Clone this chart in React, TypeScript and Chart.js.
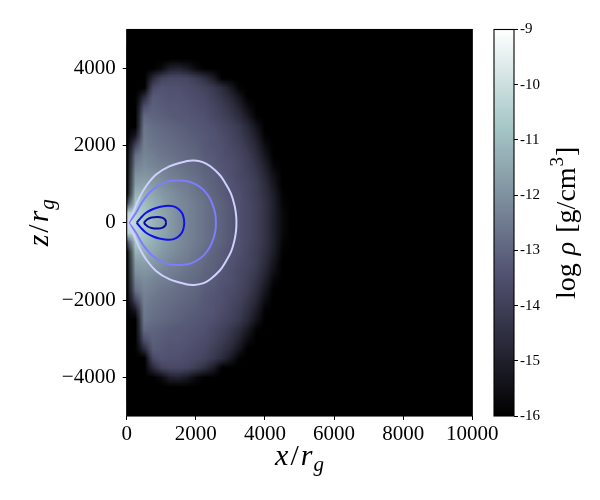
import React, { useEffect, useRef } from "react";
import { Chart, registerables } from "chart.js";

Chart.register(...registerables);

// ---------- axes ----------
const xTicks = [0, 2000, 4000, 6000, 8000, 10000];
const zTicks = [-4000, -2000, 0, 2000, 4000];
const cbTicks = [-16, -15, -14, -13, -12, -11, -10, -9];
const CB_MIN = -16;
const CB_MAX = -9;

// ---------- density grid (log rho), upper half z >= 0, mirrored below ----------
const gridX = [0, 250, 500, 750, 1000, 1250, 1500, 1750, 2000, 2250, 2500, 2750, 3000, 3250, 3500, 3750, 4000, 4250, 4500, 4750, 5000];
const gridZ = [0, 250, 500, 750, 1000, 1250, 1500, 1750, 2000, 2250, 2500, 2750, 3000, 3250, 3500, 3750, 4000, 4250, 4500];
const logRho: number[][] = [
  [-9.9, -10.3, -10.8, -11.2, -11.5, -11.8, -12.1, -12.3, -12.5, -12.7, -12.9, -13.1, -13.3, -13.5, -13.7, -14.0, -14.4, -15.0, -15.7, -16, -16],
  [-10.4, -10.4, -10.8, -11.2, -11.5, -11.8, -12.1, -12.3, -12.5, -12.7, -12.9, -13.1, -13.3, -13.5, -13.7, -14.0, -14.4, -15.0, -15.7, -16, -16],
  [-14.0, -10.7, -11.0, -11.3, -11.6, -11.9, -12.1, -12.3, -12.5, -12.7, -12.9, -13.1, -13.3, -13.5, -13.7, -14.0, -14.4, -15.0, -15.8, -16, -16],
  [-16, -11.2, -11.3, -11.5, -11.8, -12.0, -12.2, -12.4, -12.6, -12.8, -13.0, -13.2, -13.4, -13.5, -13.8, -14.1, -14.5, -15.1, -15.9, -16, -16],
  [-16, -11.7, -11.6, -11.8, -12.0, -12.2, -12.4, -12.5, -12.7, -12.9, -13.1, -13.2, -13.4, -13.6, -13.8, -14.1, -14.6, -15.3, -16, -16, -16],
  [-16, -12.0, -11.9, -12.0, -12.2, -12.4, -12.5, -12.7, -12.8, -13.0, -13.1, -13.3, -13.5, -13.7, -13.9, -14.2, -14.8, -15.5, -16, -16, -16],
  [-16, -12.4, -12.1, -12.3, -12.4, -12.5, -12.7, -12.8, -12.9, -13.1, -13.2, -13.4, -13.5, -13.7, -14.0, -14.4, -15.0, -15.8, -16, -16, -16],
  [-16, -12.8, -12.3, -12.4, -12.6, -12.7, -12.8, -12.9, -13.0, -13.2, -13.3, -13.5, -13.6, -13.8, -14.1, -14.6, -15.3, -16, -16, -16, -16],
  [-16, -13.8, -12.4, -12.6, -12.7, -12.8, -12.9, -13.0, -13.1, -13.3, -13.4, -13.5, -13.7, -13.9, -14.3, -14.8, -15.6, -16, -16, -16, -16],
  [-16, -15.2, -12.5, -12.7, -12.8, -12.9, -13.0, -13.1, -13.2, -13.3, -13.4, -13.6, -13.8, -14.1, -14.5, -15.1, -15.9, -16, -16, -16, -16],
  [-16, -16, -12.6, -12.8, -12.9, -13.0, -13.1, -13.2, -13.3, -13.4, -13.5, -13.7, -13.9, -14.2, -14.7, -15.4, -16, -16, -16, -16, -16],
  [-16, -16, -12.9, -13.0, -13.1, -13.2, -13.3, -13.3, -13.4, -13.5, -13.7, -13.9, -14.2, -14.6, -15.2, -15.9, -16, -16, -16, -16, -16],
  [-16, -16, -13.5, -13.1, -13.2, -13.3, -13.3, -13.4, -13.5, -13.6, -13.8, -14.1, -14.4, -14.9, -15.6, -16, -16, -16, -16, -16, -16],
  [-16, -16, -14.6, -13.2, -13.3, -13.4, -13.4, -13.5, -13.6, -13.7, -14.0, -14.3, -14.7, -15.3, -16, -16, -16, -16, -16, -16, -16],
  [-16, -16, -16, -13.7, -13.4, -13.5, -13.5, -13.6, -13.7, -13.9, -14.2, -14.6, -15.2, -15.9, -16, -16, -16, -16, -16, -16, -16],
  [-16, -16, -16, -14.7, -13.9, -13.7, -13.7, -13.8, -14.1, -14.5, -15.1, -16, -16, -16, -16, -16, -16, -16, -16, -16, -16],
  [-16, -16, -16, -16, -15.7, -15.0, -14.9, -15.2, -15.7, -16, -16, -16, -16, -16, -16, -16, -16, -16, -16, -16, -16],
  [-16, -16, -16, -16, -16, -16, -16, -16, -16, -16, -16, -16, -16, -16, -16, -16, -16, -16, -16, -16, -16],
  [-16, -16, -16, -16, -16, -16, -16, -16, -16, -16, -16, -16, -16, -16, -16, -16, -16, -16, -16, -16, -16],
];

// ---------- contours (upper half, [x, z], from left end to right end) ----------
const contourOuter = [[30, 0], [174, 258], [366, 645], [560, 944], [850, 1246], [1233, 1460], [1716, 1590], [1950, 1610], [2200, 1570], [2420, 1460], [2700, 1230], [2850, 1030], [3020, 750], [3120, 450], [3165, 200], [3175, 0]];
const contourMid = [[60, 0], [270, 258], [463, 558], [752, 859], [1137, 1057], [1450, 1095], [1750, 1075], [2000, 990], [2220, 850], [2400, 640], [2520, 380], [2570, 180], [2580, 0]];
const contourBlue = [[290, 0], [420, 140], [560, 258], [750, 350], [945, 410], [1172, 440], [1330, 430], [1480, 370], [1600, 250], [1650, 120], [1665, 0]];
const contourInner = [[510, 0], [600, 90], [720, 135], [900, 150], [1040, 125], [1120, 70], [1140, 0]];

// ---------- colormap (matplotlib "bone") ----------
const BONE_R = [[0, 0], [0.746032, 0.652778], [1, 1]];
const BONE_G = [[0, 0], [0.365079, 0.319444], [0.746032, 0.777778], [1, 1]];
const BONE_B = [[0, 0], [0.365079, 0.444444], [1, 1]];

function seg(pts: number[][], t: number) {
  for (let i = 1; i < pts.length; i++) {
    if (t <= pts[i][0]) {
      const [t0, v0] = pts[i - 1];
      const [t1, v1] = pts[i];
      return v0 + ((v1 - v0) * (t - t0)) / (t1 - t0);
    }
  }
  return pts[pts.length - 1][1];
}
function boneT(t: number): [number, number, number] {
  const u = Math.max(0, Math.min(1, t));
  return [seg(BONE_R, u), seg(BONE_G, u), seg(BONE_B, u)].map((c) => Math.round(c * 255)) as [number, number, number];
}
function bone(v: number) {
  return boneT((v - CB_MIN) / (CB_MAX - CB_MIN));
}
const rgb = (c: number[]) => `rgb(${c[0]},${c[1]},${c[2]})`;

function mirrorLoop(upper: number[][], smoothLeft = false) {
  const top = upper.map(([x, z]) => ({ x, y: z }));
  const bottom = upper.slice(0, -1).reverse().map(([x, z]) => ({ x, y: -z }));
  const loop = top.concat(bottom);
  if (!smoothLeft) return loop;
  const idx = upper.length - 1;
  return loop.slice(idx).concat(loop.slice(1, idx + 1));
}

const SERIF = "'Liberation Serif', 'Times New Roman', serif";
const fmtTick = (v: number) => (v < 0 ? "\u2212" + Math.abs(v) : String(v));

type Part = { text: string; font: string; dy?: number; gap?: number };
function drawParts(ctx: CanvasRenderingContext2D, parts: Part[], cx: number, baseline: number) {
  const widths = parts.map((p) => {
    ctx.font = p.font;
    return ctx.measureText(p.text).width;
  });
  const total = widths.reduce((s, w, i) => s + w + (parts[i].gap || 0), 0);
  let x = cx - total / 2;
  ctx.textAlign = "left";
  ctx.textBaseline = "alphabetic";
  parts.forEach((p, i) => {
    x += p.gap || 0;
    ctx.font = p.font;
    ctx.fillText(p.text, x, baseline + (p.dy || 0));
    x += widths[i];
  });
}

const axisTitleParts = (letter: string): Part[] => [
  { text: letter, font: `italic 30px ${SERIF}` },
  { text: "/", font: `30px ${SERIF}`, gap: 2 },
  { text: "r", font: `italic 30px ${SERIF}`, gap: 2 },
  { text: "g", font: `italic 21px ${SERIF}`, dy: 6, gap: 1 },
];

const heatmapPlugin = {
  id: "heatmap",
  beforeDatasetsDraw(chart: any) {
    const { ctx, chartArea: a, scales } = chart;
    const xs = scales.x;
    const ys = scales.y;
    const nx = gridX.length;
    const nh = gridZ.length;
    const rows: number[][] = [];
    for (let j = nh - 1; j >= 0; j--) rows.push(logRho[j]);
    for (let j = 1; j < nh; j++) rows.push(logRho[j]);
    const off = document.createElement("canvas");
    off.width = nx;
    off.height = rows.length;
    const octx = off.getContext("2d")!;
    const img = octx.createImageData(nx, rows.length);
    rows.forEach((row, j) =>
      row.forEach((v, i) => {
        const c = bone(v);
        const k = (j * nx + i) * 4;
        img.data[k] = c[0];
        img.data[k + 1] = c[1];
        img.data[k + 2] = c[2];
        img.data[k + 3] = 255;
      })
    );
    octx.putImageData(img, 0, 0);
    const hx = (gridX[1] - gridX[0]) / 2;
    const hz = (gridZ[1] - gridZ[0]) / 2;
    const left = xs.getPixelForValue(gridX[0] - hx);
    const right = xs.getPixelForValue(gridX[nx - 1] + hx);
    const top = ys.getPixelForValue(gridZ[nh - 1] + hz);
    const bottom = ys.getPixelForValue(-gridZ[nh - 1] - hz);
    ctx.save();
    ctx.beginPath();
    ctx.rect(a.left, a.top, a.right - a.left, a.bottom - a.top);
    ctx.clip();
    ctx.fillStyle = rgb(bone(CB_MIN));
    ctx.fillRect(a.left, a.top, a.right - a.left, a.bottom - a.top);
    ctx.imageSmoothingEnabled = true;
    ctx.imageSmoothingQuality = "low";
    ctx.drawImage(off, left, top, right - left, bottom - top);
    ctx.restore();
  },
};

const mainDecorPlugin = {
  id: "mainDecor",
  afterDraw(chart: any) {
    const { ctx, chartArea: a } = chart;
    ctx.save();
    ctx.strokeStyle = "#000";
    ctx.lineWidth = 1.1;
    ctx.strokeRect(a.left, a.top, a.right - a.left, a.bottom - a.top);
    ctx.fillStyle = "#000";
    drawParts(ctx, axisTitleParts("x"), (a.left + a.right) / 2, a.bottom + 49);
    ctx.translate(a.left - 79, (a.top + a.bottom) / 2);
    ctx.rotate(-Math.PI / 2);
    drawParts(ctx, axisTitleParts("z"), 0, 0);
    ctx.restore();
  },
};

const cbDecorPlugin = {
  id: "cbDecor",
  afterDraw(chart: any) {
    const { ctx, chartArea: a } = chart;
    ctx.save();
    ctx.strokeStyle = "#000";
    ctx.lineWidth = 1.1;
    ctx.strokeRect(a.left, a.top, a.right - a.left, a.bottom - a.top);
    ctx.fillStyle = "#000";
    ctx.translate(a.right + 61, (a.top + a.bottom) / 2);
    ctx.rotate(-Math.PI / 2);
    drawParts(
      ctx,
      [
        { text: "log", font: `28px ${SERIF}` },
        { text: "\u03c1", font: `italic 28px ${SERIF}`, gap: 8 },
        { text: "[g/cm", font: `28px ${SERIF}`, gap: 9 },
        { text: "3", font: `19px ${SERIF}`, dy: -12, gap: 1 },
        { text: "]", font: `28px ${SERIF}`, gap: 1 },
      ],
      0,
      0
    );
    ctx.restore();
  },
};

export default function App() {
  const mainRef = useRef<HTMLCanvasElement>(null);
  const cbRef = useRef<HTMLCanvasElement>(null);

  useEffect(() => {
    const tickFont = { family: SERIF, size: 21 };
    const contours = [
      { pts: mirrorLoop(contourOuter), color: "rgb(208,208,255)" },
      { pts: mirrorLoop(contourMid), color: "rgb(125,125,255)" },
      { pts: mirrorLoop(contourBlue), color: "rgb(16,16,235)" },
      { pts: mirrorLoop(contourInner, true), color: "rgb(10,10,165)" },
    ];
    const main = new Chart(mainRef.current!, {
      type: "scatter",
      data: {
        datasets: contours.map((c) => ({
          data: c.pts,
          showLine: true,
          borderColor: c.color,
          borderWidth: 2,
          pointRadius: 0,
          tension: 0.35,
          fill: false,
        })),
      },
      options: {
        animation: false,
        responsive: false,
        events: [],
        layout: { padding: { left: 0, top: 29.5, right: 127.7, bottom: 0 } },
        plugins: { legend: { display: false }, tooltip: { enabled: false } },
        scales: {
          x: {
            type: "linear",
            min: 0,
            max: 10000,
            afterBuildTicks: (s: any) => {
              s.ticks = xTicks.map((v) => ({ value: v }));
            },
            afterFit: (s: any) => {
              s.height = 84;
            },
            ticks: { font: tickFont, color: "#000", padding: 2, maxRotation: 0, autoSkip: false, callback: (v: any) => fmtTick(Number(v)) },
            grid: { display: true, drawOnChartArea: false, drawTicks: true, tickLength: 4, color: "#000", lineWidth: 1 },
            border: { display: false },
          },
          y: {
            type: "linear",
            min: -5000,
            max: 5000,
            afterBuildTicks: (s: any) => {
              s.ticks = zTicks.map((v) => ({ value: v }));
            },
            afterFit: (s: any) => {
              s.width = 126.7;
            },
            ticks: { font: tickFont, color: "#000", padding: 7, autoSkip: false, callback: (v: any) => fmtTick(Number(v)) },
            grid: { display: true, drawOnChartArea: false, drawTicks: true, tickLength: 4, color: "#000", lineWidth: 1 },
            border: { display: false },
          },
        },
      } as any,
      plugins: [heatmapPlugin, mainDecorPlugin],
    });

    const cb = new Chart(cbRef.current!, {
      type: "bar",
      data: {
        labels: ["cb"],
        datasets: [
          {
            data: [[CB_MIN, CB_MAX]] as any,
            borderWidth: 0,
            barPercentage: 1,
            categoryPercentage: 1,
            backgroundColor: (c: any) => {
              const chart = c.chart;
              const ys = chart.scales && chart.scales.y;
              if (!chart.chartArea || !ys) return "#000";
              const y0 = ys.getPixelForValue(CB_MIN);
              const y1 = ys.getPixelForValue(CB_MAX);
              const g = chart.ctx.createLinearGradient(0, y0, 0, y1);
              [0, 0.365079, 0.746032, 1].forEach((t) => g.addColorStop(t, rgb(boneT(t))));
              return g;
            },
          },
        ],
      },
      options: {
        animation: false,
        responsive: false,
        events: [],
        layout: { padding: { left: 494, top: 29.5, right: 0, bottom: 84 } },
        plugins: { legend: { display: false }, tooltip: { enabled: false } },
        scales: {
          x: { display: false },
          y: {
            position: "right",
            min: CB_MIN,
            max: CB_MAX,
            afterBuildTicks: (s: any) => {
              s.ticks = cbTicks.map((v) => ({ value: v }));
            },
            afterFit: (s: any) => {
              s.width = 86;
            },
            ticks: { font: { family: SERIF, size: 15 }, color: "#000", padding: 2, autoSkip: false, callback: (v: any) => String(v) },
            grid: { display: true, drawOnChartArea: false, drawTicks: true, tickLength: 4, color: "#000", lineWidth: 1 },
            border: { display: false },
          },
        },
      } as any,
      plugins: [cbDecorPlugin],
    });

    return () => {
      main.destroy();
      cb.destroy();
    };
  }, []);

  return (
    <div style={{ position: "absolute", left: 0, top: 0, width: 600, height: 500, background: "#fff" }}>
      <canvas ref={mainRef} width={600} height={500} style={{ position: "absolute", left: 0, top: 0 }} />
      <canvas ref={cbRef} width={600} height={500} style={{ position: "absolute", left: 0, top: 0, pointerEvents: "none" }} />
    </div>
  );
}
